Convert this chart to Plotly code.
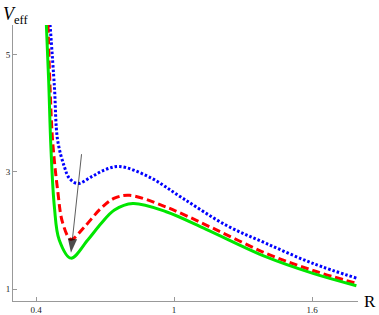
import plotly.graph_objects as go

# Data
green_R = [0.445, 0.455, 0.465, 0.480, 0.501, 0.552, 0.625, 0.683, 0.741, 0.821, 0.966, 1.140, 1.401, 1.604, 1.793]
green_V = [5.51, 4.56, 3.40, 2.40, 1.84, 1.53, 1.84, 2.12, 2.35, 2.46, 2.32, 2.02, 1.55, 1.27, 1.06]

red_R = [0.452, 0.461, 0.472, 0.494, 0.516, 0.552, 0.610, 0.683, 0.741, 0.806, 0.966, 1.169, 1.401, 1.604, 1.793]
red_V = [5.51, 4.45, 3.54, 2.69, 2.13, 1.85, 2.06, 2.38, 2.55, 2.60, 2.40, 2.04, 1.61, 1.32, 1.10]

blue_R = [0.461, 0.480, 0.494, 0.523, 0.545, 0.581, 0.639, 0.697, 0.763, 0.893, 1.038, 1.227, 1.401, 1.604, 1.793]
blue_V = [5.51, 4.45, 3.54, 3.09, 2.89, 2.80, 2.91, 3.03, 3.09, 2.91, 2.55, 2.09, 1.78, 1.44, 1.19]

arrow_R = [0.598, 0.552]
arrow_V = [3.30, 1.62]

x_ticks = [0.4, 1, 1.6]
x_tick_labels = ["0.4", "1", "1.6"]
y_ticks = [1, 3, 5]
y_tick_labels = ["1", "3", "5"]

fig = go.Figure()
fig.add_trace(go.Scatter(x=blue_R, y=blue_V, mode="lines",
                         line=dict(color="#0000ff", width=3, dash="2.5px,2px", shape="spline", smoothing=1)))
fig.add_trace(go.Scatter(x=red_R, y=red_V, mode="lines",
                         line=dict(color="#ff0000", width=3, dash="8px,4px", shape="spline", smoothing=1)))
fig.add_trace(go.Scatter(x=green_R, y=green_V, mode="lines",
                         line=dict(color="#00e600", width=3, shape="spline", smoothing=1)))
fig.add_trace(go.Scatter(x=arrow_R, y=arrow_V, mode="lines+markers",
                         line=dict(color="#333333", width=0.8),
                         marker=dict(size=[1, 15], symbol="arrow", angleref="previous",
                                     color="black", line=dict(width=0))))

axis_font = dict(family="Liberation Serif", size=9, color="#222222")
fig.update_xaxes(range=[0.3, 1.8], showline=True, linecolor="#999999", linewidth=1,
                 ticks="inside", ticklen=4, tickcolor="#999999", tickwidth=1,
                 tickvals=x_ticks, ticktext=x_tick_labels, tickfont=axis_font,
                 showgrid=False, zeroline=False, automargin=False)
fig.update_yaxes(range=[0.8, 5.5], showline=True, linecolor="#999999", linewidth=1,
                 ticks="inside", ticklen=4, tickcolor="#999999", tickwidth=1,
                 tickvals=y_ticks, ticktext=y_tick_labels, tickfont=axis_font,
                 showgrid=False, zeroline=False, automargin=False)

fig.add_annotation(text="<i>V</i><sub>eff</sub>", xref="paper", yref="paper",
                   x=-0.035, y=1.085, xanchor="left", yanchor="top", showarrow=False,
                   font=dict(family="Liberation Serif", size=18, color="black"))
fig.add_annotation(text="R", xref="paper", yref="paper",
                   x=1.035, y=0.0, xanchor="center", yanchor="middle", showarrow=False,
                   font=dict(family="Liberation Serif", size=17, color="black"))

fig.update_layout(width=379, height=315, margin=dict(l=13, r=21, t=25, b=14),
                  showlegend=False, plot_bgcolor="white", paper_bgcolor="white",
                  hovermode=False)

fig.write_html("out.html", config={"displayModeBar": False},
               post_script="document.body.style.margin='0';document.body.style.overflow='hidden';")
